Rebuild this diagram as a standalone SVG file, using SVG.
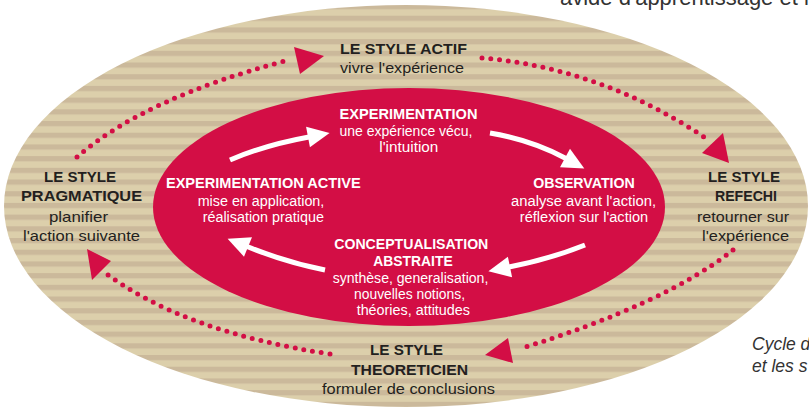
<svg xmlns="http://www.w3.org/2000/svg" width="809" height="408" viewBox="0 0 809 408">
<defs>
<pattern id="stripes" patternUnits="userSpaceOnUse" x="0" y="4" width="20" height="11.7">
<rect width="20" height="11.7" fill="#dccfab"/>
<rect width="20" height="5.2" fill="#cbb99b"/>
</pattern>
<style>
.lb{font-family:"Liberation Sans",Arial,sans-serif;font-weight:bold;font-size:15px;fill:#231f20;text-anchor:middle}
.lr{font-family:"Liberation Sans",Arial,sans-serif;font-size:15px;fill:#231f20;text-anchor:middle}
.wb{font-family:"Liberation Sans",Arial,sans-serif;font-weight:bold;font-size:14px;fill:#ffffff;text-anchor:middle}
.wr{font-family:"Liberation Sans",Arial,sans-serif;font-size:14px;fill:#ffffff;text-anchor:middle}
.note{font-family:"Liberation Sans",Arial,sans-serif;fill:#333333}
.dots{fill:none;stroke:#d30e45;stroke-width:5;stroke-linecap:round;stroke-dasharray:0 8.8}
.head{fill:#d30e45}
.wline{fill:none;stroke:#ffffff;stroke-width:5}
.whead{fill:#ffffff}
</style>
</defs>
<rect width="809" height="408" fill="#ffffff"/>
<text class="note" x="560" y="4.5" font-size="22">avide d'apprentissage et l</text>
<text class="note" x="752" y="350" font-size="17.5" font-style="italic">Cycle d</text>
<text class="note" x="752" y="372" font-size="17.5" font-style="italic">et les s</text>

<g id="outer-ring">
<ellipse cx="406" cy="206" rx="402" ry="201" fill="url(#stripes)"/>
</g>
<g id="inner-cycle">
<ellipse cx="409" cy="207" rx="256" ry="119" fill="#d30e45"/>
</g>

<g id="connectors">
<path class="dots" d="M77,157 Q145,98 285,61"/>
<polygon class="head" points="294,47 324,56 300,74"/>
<path class="dots" d="M482,58 Q604,68.5 710,141"/>
<polygon class="head" points="702,153 723,133 729,163"/>
<path class="dots" d="M733,250 Q664,304.5 519,349"/>
<polygon class="head" points="485,355 508,338 513,363"/>
<path class="dots" d="M330,354 Q183.5,332 104,272"/>
<polygon class="head" points="87,249 111,261 92,280"/>
<path class="wline" d="M230,160 Q265,145 309,137"/>
<polygon class="whead" points="306.1,126.7 329.6,133 309.9,147.3"/>
<path class="wline" d="M490,133 Q532,140 566,158.5"/>
<polygon class="whead" points="570,148.8 584.3,168.5 560,167.2"/>
<path class="wline" d="M585,245 Q550,259 509,267"/>
<polygon class="whead" points="507.9,256.7 488.4,271.3 512.1,277.3"/>
<path class="wline" d="M325,270 Q285,262 247,246.5"/>
<polygon class="whead" points="252,237.3 227.6,238.7 244,256.7"/>
</g>

<g id="style-actif">
<text class="lb" x="403.5" y="54" textLength="127" lengthAdjust="spacingAndGlyphs">LE STYLE ACTIF</text>
<text class="lr" x="402" y="73" textLength="124" lengthAdjust="spacingAndGlyphs">vivre l'expérience</text>
</g>
<g id="style-pragmatique">
<text class="lb" x="80" y="182" textLength="72" lengthAdjust="spacingAndGlyphs">LE STYLE</text>
<text class="lb" x="81.5" y="201" textLength="121" lengthAdjust="spacingAndGlyphs">PRAGMATIQUE</text>
<text class="lr" x="78.5" y="221.5" textLength="59" lengthAdjust="spacingAndGlyphs">planifier</text>
<text class="lr" x="81.5" y="240.5" textLength="117" lengthAdjust="spacingAndGlyphs">l'action suivante</text>
</g>
<g id="style-refechi">
<text class="lb" x="744" y="182" textLength="72" lengthAdjust="spacingAndGlyphs">LE STYLE</text>
<text class="lb" x="746" y="201" textLength="62" lengthAdjust="spacingAndGlyphs">REFECHI</text>
<text class="lr" x="743" y="221.5" textLength="92" lengthAdjust="spacingAndGlyphs">retourner sur</text>
<text class="lr" x="745.5" y="240.5" textLength="87" lengthAdjust="spacingAndGlyphs">l'expérience</text>
</g>
<g id="style-theoreticien">
<text class="lb" x="406.5" y="355" textLength="73" lengthAdjust="spacingAndGlyphs">LE STYLE</text>
<text class="lb" x="409.5" y="375" textLength="117" lengthAdjust="spacingAndGlyphs">THEORETICIEN</text>
<text class="lr" x="408.5" y="394" textLength="173" lengthAdjust="spacingAndGlyphs">formuler de conclusions</text>
</g>

<g id="experimentation">
<text class="wb" x="408.5" y="119" textLength="138" lengthAdjust="spacingAndGlyphs">EXPERIMENTATION</text>
<text class="wr" x="406" y="136" textLength="133" lengthAdjust="spacingAndGlyphs">une expérience vécu,</text>
<text class="wr" x="408.8" y="152" textLength="59" lengthAdjust="spacingAndGlyphs">l'intuition</text>
</g>
<g id="experimentation-active">
<text class="wb" x="263.3" y="188.3" textLength="194.7" lengthAdjust="spacingAndGlyphs">EXPERIMENTATION ACTIVE</text>
<text class="wr" x="261" y="205.5" textLength="126.7" lengthAdjust="spacingAndGlyphs">mise en application,</text>
<text class="wr" x="263.3" y="221.5" textLength="121.3" lengthAdjust="spacingAndGlyphs">réalisation pratique</text>
</g>
<g id="observation">
<text class="wb" x="584" y="188.3" textLength="101.7" lengthAdjust="spacingAndGlyphs">OBSERVATION</text>
<text class="wr" x="583.5" y="205.5" textLength="145" lengthAdjust="spacingAndGlyphs">analyse avant l'action,</text>
<text class="wr" x="584" y="221.5" textLength="128.3" lengthAdjust="spacingAndGlyphs">réflexion sur l'action</text>
</g>
<g id="conceptualisation">
<text class="wb" x="411.3" y="249.3" textLength="154" lengthAdjust="spacingAndGlyphs">CONCEPTUALISATION</text>
<text class="wb" x="413" y="265.7" textLength="79.3" lengthAdjust="spacingAndGlyphs">ABSTRAITE</text>
<text class="wr" x="410.5" y="282.7" textLength="155.7" lengthAdjust="spacingAndGlyphs">synthèse, generalisation,</text>
<text class="wr" x="409.5" y="298.5" textLength="111" lengthAdjust="spacingAndGlyphs">nouvelles notions,</text>
<text class="wr" x="413.3" y="314.5" textLength="113.3" lengthAdjust="spacingAndGlyphs">théories, attitudes</text>
</g>
</svg>
